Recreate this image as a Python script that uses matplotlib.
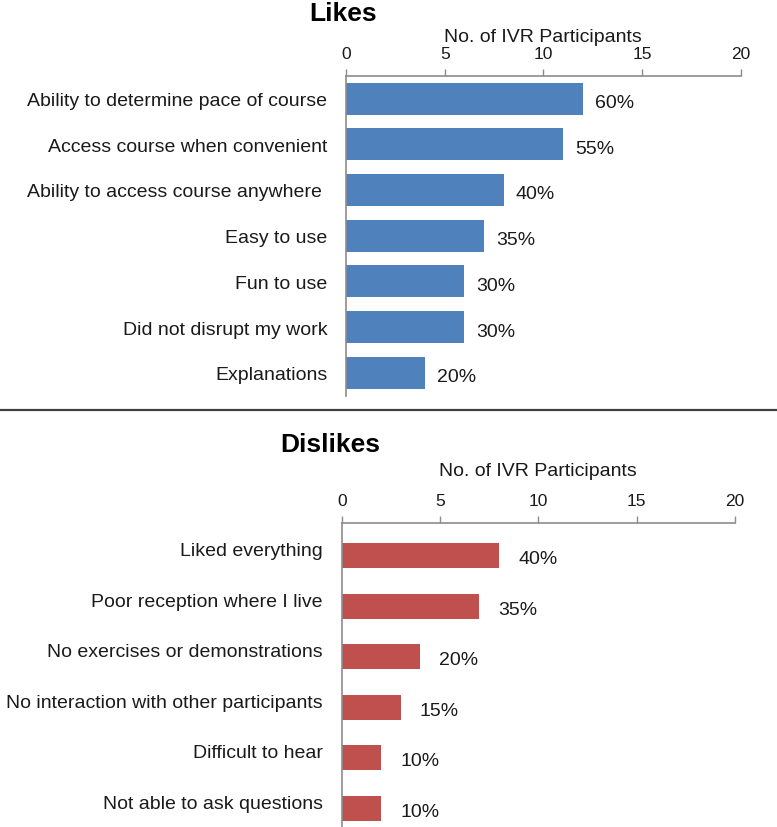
import matplotlib
matplotlib.use("Agg")
import matplotlib.pyplot as plt
from matplotlib.lines import Line2D
from matplotlib.transforms import ScaledTranslation

plt.rcParams['font.family'] = ['Liberation Sans', 'DejaVu Sans']

# ---- data ----
likes_categories = [
    "Ability to determine pace of course",
    "Access course when convenient",
    "Ability to access course anywhere ",
    "Easy to use",
    "Fun to use",
    "Did not disrupt my work",
    "Explanations",
]
likes_counts = [12, 11, 8, 7, 6, 6, 4]
likes_pct = ["60%", "55%", "40%", "35%", "30%", "30%", "20%"]

dislikes_categories = [
    "Liked everything",
    "Poor reception where I live",
    "No exercises or demonstrations",
    "No interaction with other participants",
    "Difficult to hear",
    "Not able to ask questions",
]
dislikes_counts = [8, 7, 4, 3, 2, 2]
dislikes_pct = ["40%", "35%", "20%", "15%", "10%", "10%"]

x_ticks = [0, 5, 10, 15, 20]
x_label = "No. of IVR Participants"

W, H = 777, 828
fig = plt.figure(figsize=(W / 100, H / 100), dpi=100)

AX_GRAY = "#8c8c8c"
TXT = "#1a1a1a"


def px_axes(left, top, right, bottom):
    return fig.add_axes([left / W, 1 - bottom / H, (right - left) / W, (bottom - top) / H])


def style_axes(ax, cats, counts, pct, color, height, ylim, label_dy, pct_dx, pct_dy, xlabelpad):
    y = list(range(len(cats)))
    ax.barh(y, counts, height=height, color=color, edgecolor="none")
    ax.set_xlim(0, 20)
    ax.set_ylim(*ylim)
    ax.xaxis.tick_top()
    ax.xaxis.set_label_position("top")
    ax.set_xticks(x_ticks)
    ax.set_xticklabels([str(t) for t in x_ticks])
    ax.set_xlabel(x_label, fontsize=14, color=TXT, labelpad=xlabelpad)
    ax.set_yticks(y)
    ax.set_yticklabels(cats)
    ax.tick_params(axis="x", direction="out", length=5, width=1, color=AX_GRAY,
                   labelsize=12.5, labelcolor=TXT, pad=5.5)
    ax.tick_params(axis="y", length=0, labelsize=14, labelcolor=TXT, pad=13.5)
    for s in ["right", "bottom"]:
        ax.spines[s].set_visible(False)
    for s in ["top", "left"]:
        ax.spines[s].set_color(AX_GRAY)
        ax.spines[s].set_linewidth(1.2)
    if label_dy:
        off = ScaledTranslation(0, label_dy / 100, fig.dpi_scale_trans)
        for lab in ax.get_yticklabels():
            lab.set_transform(lab.get_transform() + off)
    for yi, c, p in zip(y, counts, pct):
        ax.annotate(p, xy=(c, yi), xytext=(pct_dx, -pct_dy), textcoords="offset pixels",
                    ha="left", va="center", fontsize=14, color=TXT)


# Top panel: Likes
ax1 = px_axes(346, 76.7, 740.7, 396.7)
style_axes(ax1, likes_categories, likes_counts, likes_pct, "#4F81BD", 0.70,
           (6.5, -0.5), 0, 12, 4, 3.5)

# Bottom panel: Dislikes
ax2 = px_axes(341.7, 524, 735, 828)
style_axes(ax2, dislikes_categories, dislikes_counts, dislikes_pct, "#C0504D", 0.49,
           (5.37, -0.65), 7, 19, 3, 13)

# Titles
fig.text(343 / W, 1 - 2 / H, "Likes", ha="center", va="top", fontsize=19,
         fontweight="bold", color="black")
fig.text(330 / W, 1 - 445 / H, "Dislikes", ha="center", va="center", fontsize=19,
         fontweight="bold", color="black")

# Separator line
fig.add_artist(Line2D([0, 1], [1 - 411 / H, 1 - 411 / H], transform=fig.transFigure,
                      color="#404040", linewidth=1.6))

fig.savefig("out.png", dpi=100, facecolor="white")
